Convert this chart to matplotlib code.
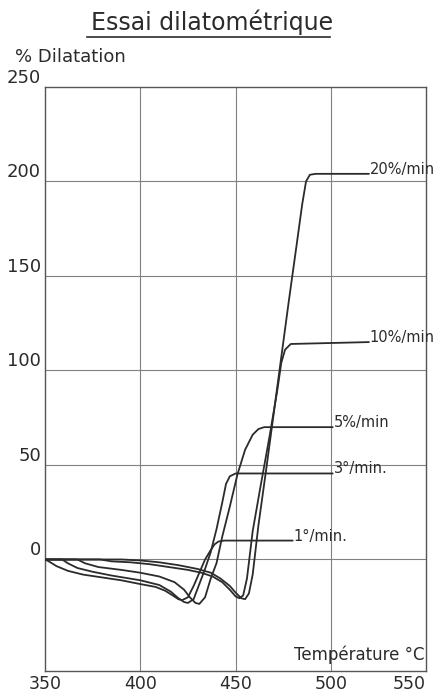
"""Essai dilatométrique: % dilatation vs température pour plusieurs vitesses de chauffe."""

import matplotlib

matplotlib.use("Agg")
import matplotlib.pyplot as plt

# --- data ---
rates = ["20%/min", "10%/min", "5%/min", "3°/min.", "1°/min."]

t_20 = [350, 390, 400, 410, 420, 430, 437, 442, 447, 450, 453, 455, 457, 459,
        462, 466, 470, 474, 478, 482, 485, 487, 489, 492, 520]
d_20 = [0, 0, -0.5, -1.5, -3, -5, -7, -10, -14, -17.5, -20.5, -21, -18, -8,
        18, 47, 77, 107, 137, 166, 188, 200, 203.5, 204, 204]

t_10 = [350, 379, 385, 395, 405, 415, 425, 432, 438, 443, 447, 450, 452, 454,
        456, 459, 463, 468, 472, 474, 476, 479, 520]
d_10 = [0, 0, -1, -1.5, -2.5, -4, -5.5, -7, -9, -12, -16, -19.5, -20.5, -19,
        -10, 15, 38, 66, 90, 104, 111, 114, 115]

t_5 = [350, 367, 371, 378, 390, 400, 410, 418, 423, 426, 429, 431, 434, 437,
       440, 443, 447, 451, 455, 459, 462, 465, 470, 501]
d_5 = [0, 0, -2, -4, -5.5, -7, -9, -12, -16, -20, -23, -23.5, -20, -10,
       -2, 12, 28, 45, 58, 66, 69, 70, 70, 70]

t_3 = [350, 359, 362, 367, 375, 385, 400, 410, 416, 420, 423, 425, 428, 431,
       434, 437, 440, 443, 445, 447, 450, 501]
d_3 = [0, 0, -2, -4.5, -6.5, -8.5, -11, -13.5, -17, -20.5, -22.5, -23, -21, -13,
       -5, 4, 16, 30, 40, 44, 45.5, 45.5]

t_1 = [350, 352, 356, 362, 370, 380, 390, 400, 408, 413, 417, 420, 422, 425,
       428, 431, 434, 437, 439, 441, 444, 480]
d_1 = [0, -1, -3.5, -6, -8, -9.5, -11, -13, -14.5, -16.5, -19, -21, -21.5, -20,
       -14, -7, 0, 5, 8, 9.5, 10, 10]

x_ticks = [350, 400, 450, 500, 550]
y_ticks = [0, 50, 100, 150, 200, 250]

INK = "#2b2b2b"
GRID = "#808080"

fig = plt.figure(figsize=(4.37, 6.95), dpi=100)
ax = fig.add_axes([0.103, 0.0345, 0.872, 0.8405])
ax.set_xlim(350, 550)
ax.set_ylim(-59, 250)

for x in x_ticks[1:-1]:
    ax.axvline(x, color=GRID, lw=0.8, zorder=1)
for y in y_ticks[:-1]:
    ax.axhline(y, color=GRID, lw=0.8, zorder=1)

curves = [(t_20, d_20), (t_10, d_10), (t_5, d_5), (t_3, d_3), (t_1, d_1)]
for label, (t, d) in zip(rates, curves):
    ax.plot(t, d, color=INK, lw=1.3, solid_capstyle="round", zorder=3)
    ax.text(t[-1] + 0.5, d[-1], label, fontsize=10.5, color=INK,
            ha="left", va="baseline", zorder=4)

for s in ax.spines.values():
    s.set_color("#555555")
    s.set_linewidth(1.0)

ax.set_xticks(x_ticks)
ax.set_yticks(y_ticks)
ax.tick_params(length=0, labelsize=13, colors=INK)
ax.tick_params(axis="x", pad=3, labelsize=12.5)
ax.tick_params(axis="y", pad=3)
for lab in ax.get_yticklabels():
    lab.set_verticalalignment("bottom")
ax.get_xticklabels()[-1].set_horizontalalignment("right")

ax.text(0.995, 0.012, "Température °C", transform=ax.transAxes,
        ha="right", va="bottom", fontsize=12, color=INK)

fig.text(0.034, 0.905, "% Dilatation", fontsize=13, color=INK,
         ha="left", va="bottom")
fig.text(0.486, 0.95, "Essai dilatométrique", fontsize=17,
         color=INK, ha="center", va="bottom")
fig.add_artist(plt.Line2D([0.2, 0.755], [0.947, 0.947], color=INK, lw=1.2))

fig.savefig("out.png", dpi=100, facecolor="white")
